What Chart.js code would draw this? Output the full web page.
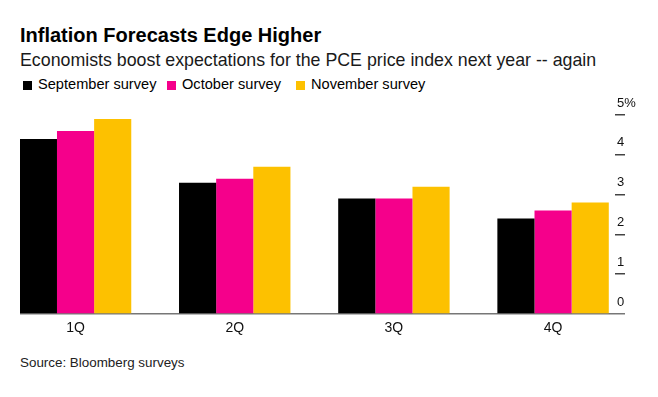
<!DOCTYPE html>
<html>
<head>
<meta charset="utf-8">
<script src="https://cdn.jsdelivr.net/npm/chart.js@4.4.7/dist/chart.umd.min.js"></script>
<style>
  html, body { margin: 0; padding: 0; background: #fff; }
  body { width: 658px; height: 397px; position: relative; overflow: hidden; font-family: "Liberation Sans", Arial, sans-serif; color: #000; }
  .title { position: absolute; left: 20px; top: 25px; font-size: 20px; line-height: 20px; font-weight: 700; white-space: nowrap; }
  .subtitle { position: absolute; left: 20px; top: 51px; font-size: 17.8px; line-height: 18px; color: #1a1a1a; white-space: nowrap; }
  .legend-item { position: absolute; top: 77px; font-size: 14.6px; line-height: 15px; white-space: nowrap; }
  .legend-item i { position: absolute; left: 0; top: 4px; width: 9px; height: 9px; }
  .legend-item span { margin-left: 15px; }
  .source { position: absolute; left: 20px; top: 356px; font-size: 13.4px; line-height: 14px; color: #222; white-space: nowrap; }
  .chart-wrap { position: absolute; left: 0; top: 90px; width: 658px; height: 260px; }
</style>
</head>
<body>
<div class="title">Inflation Forecasts Edge Higher</div>
<div class="subtitle">Economists boost expectations for the PCE price index next year -- again</div>
<div id="legend"></div>
<div class="chart-wrap"><canvas id="chart"></canvas></div>
<div class="source">Source: Bloomberg surveys</div>

<script>
var categories = ["1Q", "2Q", "3Q", "4Q"];
var seriesNames = ["September survey", "October survey", "November survey"];
var september = [4.4, 3.3, 2.9, 2.4];
var october = [4.6, 3.4, 2.9, 2.6];
var november = [4.9, 3.7, 3.2, 2.8];
var yTicks = [0, 1, 2, 3, 4, 5];

var colors = ["#000000", "#f5008b", "#fdc100"];
var legendLeft = [23, 167, 296];

// legend in html
var legendEl = document.getElementById("legend");
seriesNames.forEach(function (name, i) {
    var item = document.createElement("div");
    item.className = "legend-item";
    item.style.left = legendLeft[i] + "px";
    item.innerHTML = '<i style="background:' + colors[i] + '"></i><span>' + name + '</span>';
    legendEl.appendChild(item);
});

function points(arr) {
    return arr.map(function (v, i) { return { x: i, y: v }; });
}

var allSeries = [september, october, november];

new Chart(document.getElementById("chart"), {
    type: "bar",
    data: {
        datasets: allSeries.map(function (s, i) {
            return {
                label: seriesNames[i],
                data: points(s),
                backgroundColor: colors[i],
                borderWidth: 0,
                categoryPercentage: 0.7,
                barPercentage: 1.0
            };
        })
    },
    options: {
        responsive: true,
        maintainAspectRatio: false,
        animation: false,
        layout: { padding: { top: 25, left: 20, right: 0, bottom: 0 } },
        plugins: { legend: { display: false }, tooltip: { enabled: false } },
        scales: {
            x: {
                type: "linear",
                offset: false,
                min: -0.349,
                max: 3.389,
                grid: { display: false, drawTicks: false },
                border: { display: false },
                afterBuildTicks: function (axis) {
                    axis.ticks = categories.map(function (c, i) { return { value: i }; });
                },
                afterFit: function (axis) { axis.height = 36; },
                ticks: {
                    autoSkip: false,
                    maxRotation: 0,
                    padding: 6,
                    color: "#111",
                    font: { family: "'Liberation Sans', Arial, sans-serif", size: 14 },
                    callback: function (v) { return categories[v]; }
                }
            },
            y: {
                position: "right",
                min: 0,
                max: 5,
                afterBuildTicks: function (axis) {
                    axis.ticks = yTicks.map(function (v) { return { value: v }; });
                },
                afterFit: function (axis) { axis.width = 43; },
                border: { display: false },
                grid: {
                    drawTicks: true,
                    tickLength: 10,
                    lineWidth: 1.5,
                    color: function (ctx) { return ctx.tick && ctx.tick.value === 0 ? "#777777" : "rgba(0,0,0,0)"; },
                    tickColor: function (ctx) { return ctx.tick && ctx.tick.value === 0 ? "#777777" : "#444444"; }
                },
                ticks: {
                    padding: -8,
                    labelOffset: -12,
                    color: "#111",
                    font: { family: "'Liberation Sans', Arial, sans-serif", size: 13 },
                    callback: function (v) { return v === 5 ? v + "%" : v; }
                }
            }
        }
    }
});
</script>
</body>
</html>
